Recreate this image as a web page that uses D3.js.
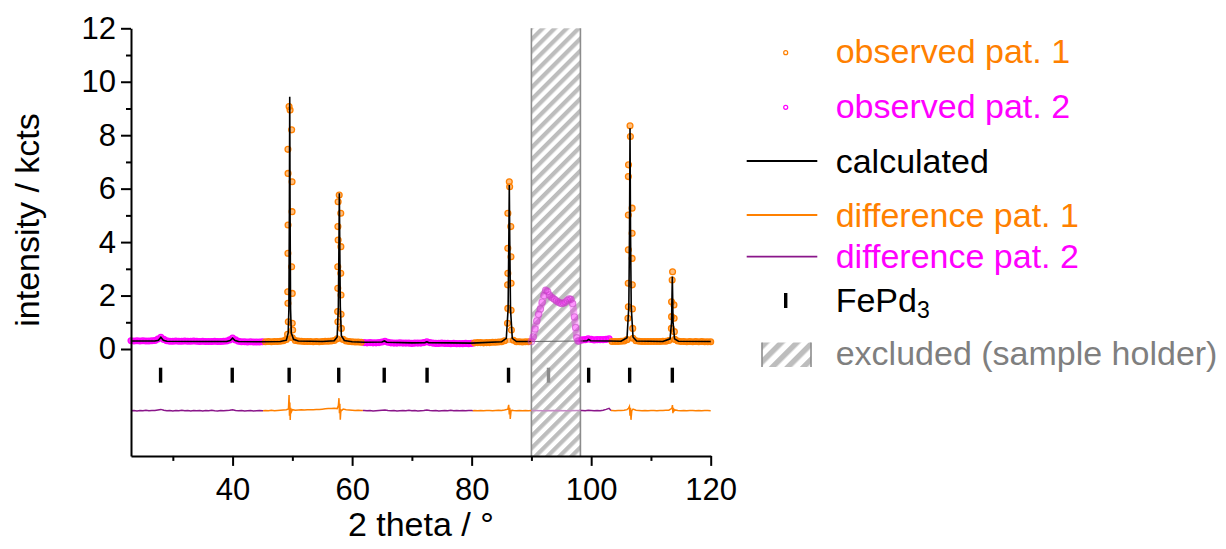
<!DOCTYPE html>
<html>
<head>
<meta charset="utf-8">
<script src="https://cdn.jsdelivr.net/npm/d3@7"></script>
<style>
  body { margin: 0; background: #fff; }
  text { font-family: "Liberation Sans", Arial, sans-serif; }
</style>
</head>
<body>
<div id="chart"></div>
<script>
// ---- data (2 theta in deg, intensity in kcts) ----
var dataStep = 0.5;

// observed background, pattern 2 (23.0 - 45.0)
var obs2A = [0.31, 0.30, 0.31, 0.30, 0.31, 0.30, 0.30, 0.31, 0.32, 0.37,
  0.44, 0.36, 0.31, 0.29, 0.29, 0.30, 0.29, 0.29, 0.30, 0.29,
  0.29, 0.30, 0.29, 0.28, 0.29, 0.28, 0.28, 0.28, 0.29, 0.28,
  0.28, 0.29, 0.30, 0.34, 0.41, 0.34, 0.29, 0.27, 0.27, 0.26,
  0.27, 0.26, 0.26, 0.26, 0.27];
// observed background, pattern 1 (45.5 - 61.5)
var obs1B = [0.27, 0.28, 0.27, 0.28, 0.28, 0.29, 0.31, 0.36, null, 0.42,
  0.32, 0.30, 0.29, 0.28, 0.28, 0.28, 0.27, 0.28, 0.27, 0.28,
  0.29, 0.29, 0.30, 0.32, 0.38, null, 0.36, 0.30, 0.28, 0.27,
  0.26, 0.26, 0.25];
// pattern 2 (62.0 - 80.0)
var obs2C = [0.24, 0.23, 0.24, 0.23, 0.23, 0.24, 0.26, 0.29, 0.25, 0.23,
  0.22, 0.22, 0.23, 0.22, 0.22, 0.22, 0.21, 0.22, 0.22, 0.22,
  0.24, 0.27, 0.24, 0.22, 0.21, 0.21, 0.22, 0.21, 0.21, 0.20,
  0.21, 0.20, 0.20, 0.20, 0.21, 0.20, 0.21];
// pattern 1 (80.5 - 89.5)
var obs1D = [0.23, 0.24, 0.24, 0.23, 0.24, 0.24, 0.25, 0.25, 0.26, 0.27,
  0.31, null, null, 0.33, 0.27, 0.27, 0.26, 0.27, 0.27];
// pattern 2 (98.5 - 103.0)
var obs2F = [0.34, 0.35, 0.38, 0.36, 0.34, 0.35, 0.35, 0.35, 0.36, 0.38];
// pattern 1 (103.5 - 120.0)
var obs1G = [0.28, 0.28, 0.28, 0.29, 0.30, 0.35, null, 0.40, 0.31, 0.29,
  0.28, 0.28, 0.28, 0.28, 0.28, 0.28, 0.28, 0.29, 0.29, 0.32,
  null, 0.36, 0.30, 0.28, 0.28, 0.27, 0.28, 0.27, 0.28, 0.27,
  0.28, 0.27, 0.27, 0.27];

// observed points on the peaks, pattern 1
var obs1Peaks = [
  [49.45, 9.07], [49.62, 8.94], [49.88, 8.20], [49.26, 7.47], [49.28, 6.57],
  [49.95, 6.26], [49.95, 5.14], [49.28, 4.64], [49.26, 3.58], [49.88, 3.08],
  [49.23, 2.14], [49.98, 2.08], [49.26, 1.71], [49.32, 1.02], [49.98, 0.96],
  [50.05, 0.71], [49.20, 0.55],
  [57.84, 5.76], [57.66, 5.51], [58.10, 5.08], [57.62, 4.58], [57.66, 4.08],
  [58.12, 3.83], [57.60, 3.08], [58.10, 2.83], [57.60, 2.27], [58.14, 2.02],
  [57.58, 1.40], [58.15, 1.30], [57.62, 1.02], [58.20, 0.77],
  [86.30, 6.26], [86.36, 6.07], [86.06, 5.08], [86.55, 4.58], [86.05, 3.77],
  [86.58, 3.45], [86.06, 2.83], [86.60, 2.46], [86.02, 2.40], [86.05, 1.52],
  [86.60, 1.45], [86.00, 0.96], [86.65, 0.71],
  [106.50, 8.35], [106.56, 7.95], [106.25, 6.89], [106.22, 6.45], [106.85, 5.27],
  [106.22, 5.01], [106.85, 4.33], [106.22, 3.71], [106.85, 3.39], [106.20, 2.46],
  [106.88, 2.40], [106.22, 1.58], [106.90, 1.50], [106.15, 1.15], [106.95, 0.77],
  [113.62, 2.89], [113.55, 2.58], [113.45, 1.77], [113.85, 1.65], [113.45, 1.21],
  [113.88, 1.15], [113.42, 0.77], [113.92, 0.65]
];

// observed pattern 2 inside the excluded range (sample holder)
var obs2Holder = [
  [90.0, 0.28], [90.3, 0.45], [90.6, 0.75], [90.9, 1.05], [91.2, 1.30],
  [91.5, 1.50], [91.8, 1.75], [92.1, 2.00], [92.4, 2.20], [92.7, 2.15],
  [93.0, 2.02], [93.3, 1.95], [93.6, 1.90], [93.9, 1.85], [94.2, 1.80],
  [94.5, 1.76], [94.8, 1.72], [95.1, 1.70], [95.4, 1.72], [95.7, 1.76],
  [96.0, 1.82], [96.3, 1.87], [96.6, 1.86], [96.9, 1.70], [97.2, 1.20],
  [97.4, 0.80], [97.6, 0.42], [97.8, 0.30], [98.0, 0.30]
];

// calculated profile
var calcLeft = [
  [23, 0.30], [27, 0.30], [27.6, 0.33], [28.0, 0.44], [28.4, 0.33], [29, 0.29],
  [35, 0.28], [39, 0.28], [39.6, 0.32], [40.0, 0.41], [40.4, 0.32], [41, 0.28],
  [45, 0.27], [48, 0.28], [49.0, 0.33], [49.3, 0.60], [49.42, 1.5], [49.5, 5.0],
  [49.56, 9.44], [49.62, 5.0], [49.7, 1.5], [49.82, 0.6], [50.2, 0.36], [51, 0.30],
  [55, 0.28], [57, 0.31], [57.5, 0.45], [57.7, 1.6], [57.8, 4.0], [57.86, 5.83],
  [57.93, 4.0], [58.02, 1.6], [58.2, 0.5], [58.7, 0.32], [60, 0.27], [62, 0.25],
  [65, 0.26], [65.4, 0.30], [65.8, 0.25], [70, 0.23], [72.2, 0.24], [72.5, 0.27],
  [72.8, 0.24], [80, 0.22], [85, 0.27], [85.8, 0.40], [86.1, 1.5], [86.22, 4.0],
  [86.3, 6.14], [86.38, 4.0], [86.5, 1.5], [86.8, 0.40], [87.5, 0.28], [90, 0.28]
];
var calcHolder = [[90, 0.28], [98.2, 0.30]];
var calcRight = [
  [98.2, 0.30], [99.3, 0.31], [99.6, 0.36], [99.9, 0.31], [103, 0.30], [105, 0.29],
  [106.0, 0.42], [106.3, 1.6], [106.42, 4.5], [106.5, 8.26], [106.58, 4.5],
  [106.7, 1.6], [107.0, 0.45], [107.6, 0.30], [112, 0.28], [113.2, 0.38],
  [113.45, 1.0], [113.58, 2.71], [113.7, 1.0], [113.95, 0.38], [114.6, 0.29], [120, 0.28]
];

// difference curves (offset to -2.3)
var diff2A = [-2.31, -2.30, -2.32, -2.30, -2.31, -2.29, -2.31, -2.30, -2.30, -2.28,
  -2.26, -2.29, -2.31, -2.30, -2.32, -2.30, -2.31, -2.29, -2.31, -2.30,
  -2.32, -2.30, -2.31, -2.30, -2.32, -2.30, -2.31, -2.29, -2.31, -2.32,
  -2.30, -2.31, -2.30, -2.29, -2.27, -2.30, -2.31, -2.30, -2.32, -2.31,
  -2.30, -2.32, -2.31, -2.30, -2.31];
var diff1B = [-2.30, -2.31, -2.29, -2.31, -2.30, -2.29, -2.28, -2.27, null, -2.27,
  -2.29, -2.28, -2.27, -2.28, -2.27, -2.27, -2.27, -2.26, -2.26, -2.25,
  -2.24, -2.23, -2.23, -2.22, -2.23, null, -2.25, -2.27, -2.28, -2.29,
  -2.30, -2.29, -2.30];
var diff1BSpikes = [[49.35, -2.24], [49.45, -1.72], [49.52, -2.50], [49.58, -2.00],
  [49.64, -2.66], [49.72, -2.20], [49.82, -2.36], [57.7, -2.12], [57.8, -1.84],
  [57.88, -2.40], [57.95, -2.05], [58.02, -2.65], [58.12, -2.28], [58.25, -2.30]];
var diff2C = [-2.30, -2.31, -2.30, -2.32, -2.31, -2.30, -2.29, -2.28, -2.30, -2.31,
  -2.30, -2.32, -2.31, -2.30, -2.31, -2.29, -2.31, -2.30, -2.32, -2.31,
  -2.30, -2.28, -2.30, -2.31, -2.30, -2.32, -2.31, -2.30, -2.31, -2.29,
  -2.31, -2.30, -2.31, -2.30, -2.31, -2.30, -2.30];
var diff1D = [-2.30, -2.31, -2.30, -2.31, -2.30, -2.30, -2.31, -2.30, -2.29, -2.30,
  -2.28, null, null, -2.30, -2.31, -2.30, -2.31, -2.30, -2.31];
var diff1DSpikes = [[86.05, -2.25], [86.2, -2.09], [86.3, -2.45], [86.38, -2.20],
  [86.46, -2.62], [86.6, -2.30], [86.8, -2.29], [90, -2.30]];
var diff2Holder = [[90, -2.30], [92, -2.31], [94, -2.30], [96, -2.31], [98.2, -2.30]];
var diff2F = [-2.30, -2.31, -2.29, -2.30, -2.31, -2.30, -2.31, -2.29, -2.26, -2.22];
var diff1G = [-2.30, -2.31, -2.30, -2.30, -2.29, -2.27, null, -2.25, -2.29, -2.30,
  -2.31, -2.30, -2.31, -2.30, -2.30, -2.31, -2.30, -2.30, -2.29, -2.29,
  null, -2.28, -2.30, -2.31, -2.30, -2.31, -2.30, -2.30, -2.31, -2.30,
  -2.31, -2.30, -2.30, -2.31];
var diff1GSpikes = [[103.3, -2.30], [106.25, -2.22], [106.4, -2.15], [106.5, -2.50],
  [106.58, -2.20], [106.66, -2.65], [106.8, -2.30], [113.5, -2.22], [113.6, -2.10],
  [113.68, -2.40], [113.76, -2.20], [113.85, -2.32]];

// FePd3 reflection positions
var reflections = [27.95, 39.94, 49.46, 57.76, 65.37, 72.54, 86.17, 92.86, 99.58, 106.44, 113.58];
var excludedRange = [90, 98.2];

var yMajorTicks = [0, 2, 4, 6, 8, 10, 12];
var yMinorTicks = [1, 3, 5, 7, 9, 11];
var xMajorTicks = [40, 60, 80, 100, 120];
var xMinorTicks = [30, 50, 70, 90, 110];

var orange = "#ff8000";
var magenta = "#ff00ff";
var purple = "#8a168a";
var grey = "#7f7f7f";

// ---- chart setup ----
var svgWidth = 1226;
var svgHeight = 549;
var margin = { top: 28.3, right: 515.3, bottom: 93.1, left: 131 };
var width = svgWidth - margin.left - margin.right;
var height = svgHeight - margin.top - margin.bottom;

var svg = d3.select("#chart")
  .append("svg")
  .attr("width", svgWidth)
  .attr("height", svgHeight);

var defs = svg.append("defs");

function hatch(id, size) {
  var p = defs.append("pattern")
    .attr("id", id)
    .attr("patternUnits", "userSpaceOnUse")
    .attr("width", size)
    .attr("height", size)
    .attr("patternTransform", "rotate(45)");
  p.append("rect").attr("width", size).attr("height", size).attr("fill", "#fff");
  p.append("rect").attr("width", size / 2).attr("height", size).attr("fill", "#bdbdbd");
}
hatch("hatchMain", 8.5);
hatch("hatchLegend", 11);

var chartGroup = svg.append("g")
  .attr("transform", `translate(${margin.left}, ${margin.top})`);

var x = d3.scaleLinear().domain([23, 120]).range([0, width]);
var y = d3.scaleLinear().domain([-4, 12]).range([height, 0]);

function expand(start, values) {
  var pts = [];
  values.forEach(function(v, i) {
    if (v !== null) pts.push([start + i * dataStep, v]);
  });
  return pts;
}

function withSpikes(start, values, spikes) {
  return expand(start, values).concat(spikes || []).sort((a, b) => a[0] - b[0]);
}

var line = d3.line().x(d => x(d[0])).y(d => y(d[1]));

// excluded region
var exGroup = chartGroup.append("g");
exGroup.append("rect")
  .attr("x", x(excludedRange[0]))
  .attr("y", 0)
  .attr("width", x(excludedRange[1]) - x(excludedRange[0]))
  .attr("height", height)
  .attr("fill", "url(#hatchMain)");
excludedRange.forEach(function(v) {
  exGroup.append("line")
    .attr("x1", x(v)).attr("x2", x(v))
    .attr("y1", 0).attr("y2", height)
    .attr("stroke", "#8c8c8c")
    .attr("stroke-width", 1.6);
});

// observed points
var obs1Bg = [expand(45.5, obs1B), expand(80.5, obs1D), expand(103.5, obs1G)];
var obs2Bg = [expand(23, obs2A), expand(62, obs2C), expand(98.5, obs2F)];
var obs1 = d3.merge(obs1Bg).concat(obs1Peaks);
var obs2 = d3.merge(obs2Bg);

// the dense background points merge into a band
function drawBand(segs, color) {
  segs.forEach(function(seg) {
    chartGroup.append("path")
      .datum(seg)
      .attr("d", line)
      .attr("fill", "none")
      .attr("stroke", color)
      .attr("stroke-width", 5)
      .attr("stroke-opacity", 0.55)
      .attr("stroke-linecap", "round");
  });
}
drawBand(obs2Bg, magenta);
drawBand(obs1Bg, orange);

function drawObs(data, color) {
  chartGroup.append("g")
    .selectAll("circle")
    .data(data)
    .enter()
    .append("circle")
    .attr("cx", d => x(d[0]))
    .attr("cy", d => y(d[1]))
    .attr("r", 2.9)
    .attr("fill", color)
    .attr("fill-opacity", 0.5)
    .attr("stroke", color)
    .attr("stroke-width", 1.3);
}
drawObs(obs2, magenta);
drawObs(obs1, orange);

// calculated
[calcLeft, calcRight].forEach(function(seg) {
  chartGroup.append("path")
    .datum(seg)
    .attr("d", line)
    .attr("fill", "none")
    .attr("stroke", "#000")
    .attr("stroke-width", 1.6);
});

// reflection ticks
chartGroup.append("g")
  .selectAll("line")
  .data(reflections)
  .enter()
  .append("line")
  .attr("x1", d => x(d)).attr("x2", d => x(d))
  .attr("y1", y(-0.7)).attr("y2", y(-1.26))
  .attr("stroke", d => (d > excludedRange[0] && d < excludedRange[1]) ? "#8a8a8a" : "#000")
  .attr("stroke-width", 3.4);

// difference curves
var diffSegments = [
  [withSpikes(23, diff2A, [[45.1, -2.31]]), purple],
  [withSpikes(45.5, diff1B, diff1BSpikes.concat([[45.1, -2.31], [61.8, -2.30]])), orange],
  [withSpikes(62, diff2C, [[61.8, -2.30], [80.2, -2.31]]), purple],
  [withSpikes(80.5, diff1D, diff1DSpikes.concat([[80.2, -2.31]])), orange],
  [withSpikes(98.5, diff2F, [[98.2, -2.30], [103.3, -2.30]]), purple],
  [withSpikes(103.5, diff1G, diff1GSpikes), orange]
];
diffSegments.forEach(function(s) {
  chartGroup.append("path")
    .datum(s[0])
    .attr("d", line)
    .attr("fill", "none")
    .attr("stroke", s[1])
    .attr("stroke-width", 1.5);
});

// data inside the excluded range, faded
chartGroup.append("path")
  .datum(calcHolder)
  .attr("d", line)
  .attr("fill", "none")
  .attr("stroke", "#666")
  .attr("stroke-width", 1.2);
chartGroup.append("path")
  .datum(diff2Holder)
  .attr("d", line)
  .attr("fill", "none")
  .attr("stroke", "#c68ac6")
  .attr("stroke-width", 1.5);
chartGroup.append("path")
  .datum(obs2Holder)
  .attr("d", line)
  .attr("fill", "none")
  .attr("stroke", magenta)
  .attr("stroke-width", 7)
  .attr("stroke-opacity", 0.28)
  .attr("stroke-linejoin", "round");
chartGroup.append("g")
  .selectAll("circle")
  .data(obs2Holder)
  .enter()
  .append("circle")
  .attr("cx", d => x(d[0]))
  .attr("cy", d => y(d[1]))
  .attr("r", 3.2)
  .attr("fill", magenta)
  .attr("fill-opacity", 0.18)
  .attr("stroke", "#c04ac0")
  .attr("stroke-width", 1.1)
  .attr("stroke-opacity", 0.55);

// axes
var yAxis = chartGroup.append("g")
  .call(d3.axisLeft(y).tickValues(yMajorTicks).tickSize(10).tickSizeOuter(0).tickPadding(5));
chartGroup.append("g")
  .call(d3.axisLeft(y).tickValues(yMinorTicks).tickSize(5).tickFormat(""))
  .call(g => g.select(".domain").remove());
var xAxis = chartGroup.append("g")
  .attr("transform", `translate(0, ${height})`)
  .call(d3.axisBottom(x).tickValues(xMajorTicks).tickSize(10).tickSizeOuter(0).tickPadding(12));
chartGroup.append("g")
  .attr("transform", `translate(0, ${height})`)
  .call(d3.axisBottom(x).tickValues(xMinorTicks).tickSize(5).tickFormat(""))
  .call(g => g.select(".domain").remove());

chartGroup.selectAll(".domain, .tick line")
  .attr("stroke", "#000")
  .attr("stroke-width", 2);
chartGroup.selectAll(".tick text")
  .attr("font-family", "'Liberation Sans', Arial, sans-serif")
  .attr("font-size", 31)
  .attr("fill", "#000");

// axis titles
svg.append("text")
  .attr("transform", "translate(38.5, 220) rotate(-90)")
  .attr("text-anchor", "middle")
  .attr("font-size", 34)
  .text("intensity / kcts");
svg.append("text")
  .attr("x", margin.left + width / 2)
  .attr("y", 536)
  .attr("text-anchor", "middle")
  .attr("font-size", 34)
  .text("2 theta / °");

// legend
var legendLabels = ["observed pat. 1", "observed pat. 2", "calculated",
  "difference pat. 1", "difference pat. 2", "FePd", "excluded (sample holder)"];
var legendColors = [orange, magenta, "#000", orange, magenta, "#000", grey];
var legendBaselines = [63.3, 118.3, 172.7, 226.7, 268.3, 311.7, 365];
var legend = svg.append("g");
var textX = 835.7;
var markX = 785.7;

legendLabels.forEach(function(label, i) {
  var t = legend.append("text")
    .attr("x", textX)
    .attr("y", legendBaselines[i])
    .attr("font-size", 34)
    .attr("fill", legendColors[i])
    .text(label);
  if (i === 5) {
    t.append("tspan").attr("font-size", 23).attr("dy", 6).text("3");
  }
});

[[52.7, orange], [107.3, magenta]].forEach(function(m) {
  legend.append("circle")
    .attr("cx", markX).attr("cy", m[0]).attr("r", 2)
    .attr("fill", "none").attr("stroke", m[1]).attr("stroke-width", 1.2);
});
[[161, "#000"], [215, orange], [256.7, purple]].forEach(function(m) {
  legend.append("line")
    .attr("x1", 746.7).attr("x2", 817.3)
    .attr("y1", m[0]).attr("y2", m[0])
    .attr("stroke", m[1]).attr("stroke-width", 1.8);
});
legend.append("line")
  .attr("x1", markX).attr("x2", markX)
  .attr("y1", 293).attr("y2", 308)
  .attr("stroke", "#000").attr("stroke-width", 3.4);
legend.append("rect")
  .attr("x", 762).attr("y", 342.5)
  .attr("width", 49).attr("height", 24.5)
  .attr("fill", "url(#hatchLegend)");
[762, 811].forEach(function(v) {
  legend.append("line")
    .attr("x1", v).attr("x2", v)
    .attr("y1", 342.5).attr("y2", 367)
    .attr("stroke", "#8c8c8c").attr("stroke-width", 1.6);
});
</script>
</body>
</html>
